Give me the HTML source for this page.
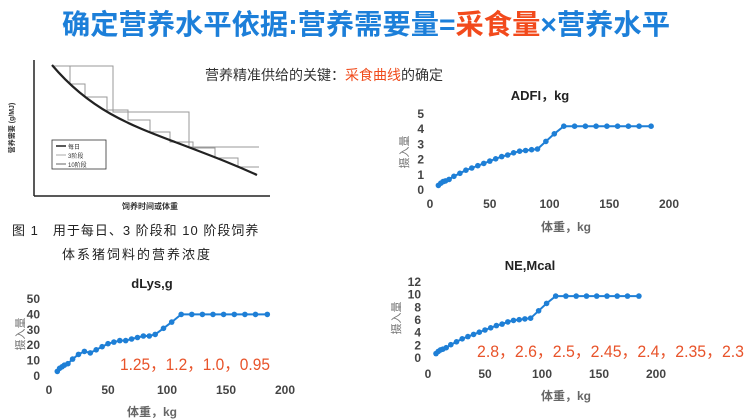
<!DOCTYPE html>
<html><head><meta charset="utf-8">
<style>
html,body{margin:0;padding:0;background:#fff;width:755px;height:420px;overflow:hidden}
svg{display:block}
text{font-family:"Liberation Sans","Noto Sans CJK SC",sans-serif}
.cj{font-family:"Liberation Sans","Noto Sans CJK SC",sans-serif}
.tk{font-size:12px;font-weight:bold;fill:#444}
</style></head><body>
<svg id="s" width="755" height="420" viewBox="0 0 755 420" xmlns="http://www.w3.org/2000/svg">
<text x="62" y="34" textLength="608" lengthAdjust="spacingAndGlyphs" font-size="28" font-weight="bold" class="cj" fill="#1c7fd9">确定营养水平依据:营养需要量=<tspan fill="#f24a1c">采食量</tspan>×营养水平</text>
<text x="205" y="80" font-size="14" fill="#333" class="cj">营养精准供给的关键：<tspan fill="#f04a1a">采食曲线</tspan>的确定</text>
<g stroke="#222" stroke-width="1.5" fill="none">
<line x1="34" y1="60" x2="34" y2="196"/><line x1="34" y1="196" x2="270" y2="196"/>
</g>
<g stroke="#999" stroke-width="1" fill="none">
<polyline points="52,66 113,66 113,112 189,112 189,147 259,147"/>
<polyline points="52,66 70,66 70,84 85,84 85,97 107,97 107,110 128,110 128,120 150,120 150,132 170,132 170,142 193,142 193,148 215,148 215,158 238,158 238,167 259,167"/>
</g>
<path d="M52,65 C90,110 130,125 175,142 S235,165 257,175" stroke="#222" stroke-width="2.2" fill="none"/>
<rect x="52" y="140" width="54" height="29" fill="#fff" stroke="#333" stroke-width="0.8"/>
<line x1="56" y1="146" x2="66" y2="146" stroke="#222" stroke-width="1.5"/><text x="68" y="149" font-size="6" fill="#333">每日</text>
<line x1="56" y1="155" x2="66" y2="155" stroke="#aaa"/><text x="68" y="158" font-size="6" fill="#333">3阶段</text>
<line x1="56" y1="164" x2="66" y2="164" stroke="#666"/><text x="68" y="167" font-size="6" fill="#333">10阶段</text>
<text transform="translate(14,128) rotate(-90)" font-size="7" font-weight="bold" fill="#333" text-anchor="middle">营养需要 (g/MJ)</text>
<text x="150" y="209" font-size="8" font-weight="bold" fill="#333" text-anchor="middle">饲养时间或体重</text>
<text x="12" y="235" font-size="13" fill="#222" font-family="'Noto Serif CJK SC',serif" letter-spacing="1">图 1　用于每日、3 阶段和 10 阶段饲养</text>
<text x="62" y="259" font-size="13" fill="#222" font-family="'Noto Serif CJK SC',serif" letter-spacing="2">体系猪饲料的营养浓度</text>
<text x="540" y="100" font-size="13" font-weight="bold" text-anchor="middle" fill="#222">ADFI，kg</text>
<text x="152" y="288" font-size="13" font-weight="bold" text-anchor="middle" fill="#222">dLys,g</text>
<text x="530" y="270" font-size="13" font-weight="bold" text-anchor="middle" fill="#222">NE,Mcal</text>
<text x="566" y="231" font-size="12" font-weight="bold" text-anchor="middle" fill="#666">体重，kg</text>
<text x="152" y="416" font-size="12" font-weight="bold" text-anchor="middle" fill="#666">体重，kg</text>
<text x="566" y="400" font-size="12" font-weight="bold" text-anchor="middle" fill="#666">体重，kg</text>
<text transform="translate(408,152) rotate(-90)" font-size="11" fill="#777" text-anchor="middle">摄入量</text>
<text transform="translate(24,334) rotate(-90)" font-size="11" fill="#777" text-anchor="middle">摄入量</text>
<text transform="translate(400,318) rotate(-90)" font-size="11" fill="#777" text-anchor="middle">摄入量</text>
<text x="120" y="370" font-size="17" textLength="150" lengthAdjust="spacingAndGlyphs" fill="#e8532a">1.25，1.2，1.0，0.95</text>
<text x="477" y="357" font-size="17" textLength="267" lengthAdjust="spacingAndGlyphs" fill="#e8532a">2.8，2.6，2.5，2.45，2.4，2.35，2.3</text>
<g id="g"></g>
</svg>
<script>
var W=[7,9,11,13,16,20,25,30,35,40,45,50,55,60,65,70,75,80,85,90,97,104,112,121,130,139,148,157,166,175,185];
var A=[0.3,0.45,0.55,0.6,0.7,0.9,1.1,1.3,1.45,1.6,1.75,1.9,2.05,2.2,2.3,2.45,2.55,2.6,2.65,2.7,3.2,3.7,4.2];
var L=[3,5,6,7,8,11,14,16,15,17,19,21,22,23,23,24,25,26,26,27,31,35,40];
while(A.length<W.length){A.push(4.2);L.push(40);}
var N=A.map(function(v){return v*2.33;});
var g=document.getElementById('g'),h='';
function chart(d,x0,sx,y0,sy,yt,ylx,xly){
 var p=W.map(function(w,i){return (x0+w*sx).toFixed(1)+','+(y0-d[i]*sy).toFixed(1);});
 h+='<polyline points="'+p.join(' ')+'" fill="none" stroke="#1e7fd6" stroke-width="2"/>';
 p.forEach(function(q){var c=q.split(',');h+='<circle cx="'+c[0]+'" cy="'+c[1]+'" r="2.8" fill="#1e7fd6"/>';});
 yt.forEach(function(v){h+='<text class="tk" x="'+ylx+'" y="'+(y0-v*sy+4)+'" text-anchor="end">'+v+'</text>';});
 [0,50,100,150,200].forEach(function(v){h+='<text class="tk" x="'+(x0+v*sx)+'" y="'+xly+'" text-anchor="middle">'+v+'</text>';});
}
chart(A,430,1.195,190,15.2,[0,1,2,3,4,5],424,208);
chart(L,49,1.18,376,1.54,[0,10,20,30,40,50],40,394);
chart(N,428,1.14,358,6.33,[0,2,4,6,8,10,12],421,378);
g.innerHTML=h;
</script>
</body></html>
